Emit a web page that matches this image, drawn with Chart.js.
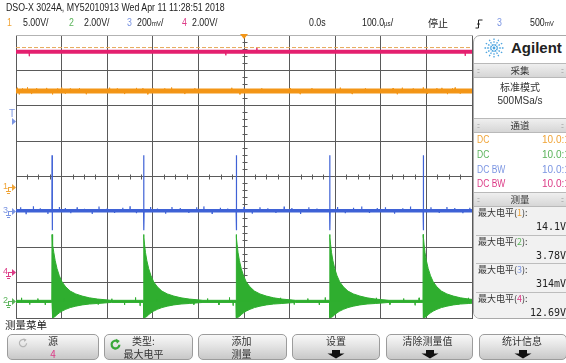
<!DOCTYPE html>
<html lang="zh">
<head>
<meta charset="utf-8">
<title>DSO-X 3024A</title>
<script src="https://cdn.jsdelivr.net/npm/chart.js@4.4.1/dist/chart.umd.min.js"></script>
<style>
html,body{margin:0;padding:0;background:#fff;}
body{width:566px;height:363px;overflow:hidden;position:relative;font-family:"Liberation Sans",Arial,sans-serif;color:#222;}
#scope{position:absolute;left:0;top:0;}
.t{position:absolute;white-space:nowrap;font-size:10px;line-height:12px;}
.n{transform:scaleX(0.88);transform-origin:0 0;}
.cjk{font-family:"Noto Sans CJK SC",sans-serif;}
.u{font-size:7px;}
#panel{position:absolute;left:473px;top:35px;width:100px;height:282px;border:1px solid #a9a9a9;border-radius:7px;background:#fff;overflow:hidden;}
.hdr{position:absolute;left:0;width:100px;height:13px;background:linear-gradient(#efefef,#d6d6d6);border-top:1px solid #b9b9b9;border-bottom:1px solid #b9b9b9;}
.hdr span.c{position:absolute;left:0;width:92px;text-align:center;font-family:"Noto Sans CJK SC",sans-serif;font-size:9.5px;line-height:13px;color:#333;}
.grip{position:absolute;top:0;font-size:7px;line-height:13px;color:#8a8a8a;letter-spacing:-1px;}
.ctr{position:absolute;left:0;width:92px;text-align:center;font-size:10px;line-height:12px;color:#333;}
.chl{position:absolute;font-size:10px;line-height:12px;transform:scaleX(0.85);transform-origin:0 0;white-space:nowrap;}
.chr{position:absolute;font-size:10px;line-height:12px;white-space:nowrap;}
#meas{position:absolute;left:0;top:170px;width:100px;height:120px;background:#f1f1f1;}
.ml{position:absolute;left:4px;font-family:"Noto Sans CJK SC",sans-serif;font-size:9px;line-height:12px;color:#333;white-space:nowrap;}
.mv{position:absolute;right:8px;font-family:"DejaVu Sans Mono",monospace;font-size:10px;line-height:12px;color:#222;}
.sep{position:absolute;left:2px;width:100px;height:1px;background:#bdbdbd;}
.btn{position:absolute;top:334px;height:26px;border:1px solid #9c9c9c;border-radius:5px;box-sizing:border-box;background:linear-gradient(#f8f8f8,#e4e4e4 45%,#c8c8c8);}
.btn .l{position:absolute;left:0;right:0;text-align:center;font-family:"Noto Sans CJK SC",sans-serif;font-size:10px;line-height:12px;color:#333;white-space:nowrap;}
.btn .l1{top:0px;}
.btn .l2{top:13px;}
.btn svg{position:absolute;}
</style>
</head>
<body>
<canvas id="scope" width="566" height="363"></canvas>

<!-- status line -->
<div class="t n" style="left:6px;top:2px;">DSO-X 3024A, MY52010913 Wed Apr 11 11:28:51 2018</div>
<div id="chanline"></div>
<div class="t n" style="left:309px;top:17px;">0.0s</div>
<div class="t n" style="left:362px;top:17px;">100.0<span class="u">µs</span>/</div>
<div class="t cjk" style="left:428px;top:17px;">停止</div>
<svg style="position:absolute;left:475px;top:19px" width="9" height="10" viewBox="0 0 9 10">
  <path d="M0.5 9 H3.5 V1 H7.5" fill="none" stroke="#222" stroke-width="1"/>
  <path d="M1.8 5.5 L3.5 3.2 L5.2 5.5 Z" fill="#222"/>
</svg>
<div class="t n" id="trigsrc" style="left:497px;top:17px;"></div>
<div class="t n" id="triglvl" style="left:530px;top:17px;"></div>

<!-- side panel -->
<div id="panel">
  <svg style="position:absolute;left:9px;top:1px" width="22" height="22" viewBox="-11 -11 22 22" id="star"></svg>
  <div style="position:absolute;left:37px;top:3px;font-size:15px;line-height:18px;font-weight:bold;color:#222;">Agilent</div>
  <div class="hdr" style="top:27px;"><span class="grip" style="left:3px">::</span><span class="c">采集</span><span class="grip" style="left:87px">::</span></div>
  <div class="ctr cjk" style="top:45px;">标准模式</div>
  <div class="ctr" style="top:59px;">500MSa/s</div>
  <div class="hdr" style="top:82px;"><span class="grip" style="left:3px">::</span><span class="c">通道</span><span class="grip" style="left:87px">::</span></div>
  <div id="chrows"></div>
  <div id="meas"></div>
  <div class="hdr" style="top:156px;"><span class="grip" style="left:3px">::</span><span class="c">测量</span><span class="grip" style="left:87px">::</span></div>
</div>

<!-- softkey menu -->
<div class="t cjk" style="left:5px;top:319px;font-size:10.5px;">测量菜单</div>
<div id="keys"></div>

<script>
// ---------- acquisition / display settings ----------
const TIME_PER_DIV = 100;            // µs per division
const DIV_X = 10, DIV_Y = 8;
const TIME_MIN = -DIV_X / 2 * TIME_PER_DIV;
const TIME_MAX = DIV_X / 2 * TIME_PER_DIV;

const channelNames = ['1', '2', '3', '4'];
const channelColors = ['#f39617', '#2fae2f', '#3f62d6', '#e4206f'];
const labelColors   = ['#f0a437', '#5ab35a', '#7b95e2', '#dc3a86'];
const scaleLabels   = ['5.00V/', '2.00V/', '200mV/', '2.00V/'];
const voltsPerDiv   = [5, 2, 200, 2];            // channel 3 in mV
const groundDiv     = [-0.30, -3.53, -0.97, -2.70]; // ground reference, divisions from centre
const couplings     = ['DC', 'DC', 'DC BW', 'DC BW'];
const probeRatios   = ['10.0:1', '10.0:1', '10.0:1', '10.0:1'];

const triggerSource = 3;
const triggerLevel  = 500;           // mV on channel 3
const triggerLabel  = '500mV';

// ---------- measured waveforms ----------
// switching events (µs)
const pulseTimes = [-421, -220, -17, 188, 393];

// channel 1: DC rail (V) with noise hairs [µs, V]
const ch1Level = 13.57;
const ch1Hairs = [[-497,14.05],[-493,13.1],[-486,13.95],[-475,14.1],[-466,13.15],[-455,13.98],[-433,14.02],[-420,13.1],
  [-409,13.95],[-400,14.08],[-392,13.2],[-381,13.96],[-361,14.0],[-346,13.12],[-295,14.05],[-278,13.96],[-262,13.15],
  [-236,14.02],[-222,13.98],[-211,13.12],[-200,14.0],[-174,13.95],[-159,14.08],[-130,13.15],[-108,13.97],[-27,14.04],
  [-9,13.12],[39,13.96],[101,14.0],[123,13.14],[149,13.98],[211,14.06],[237,13.15],[266,13.97],[327,14.0],[336,13.12],
  [347,14.05],[371,13.95],[393,14.1],[402,13.16],[423,13.98],[434,14.03],[446,13.14],[457,13.97],[463,14.06],[474,13.2]];

// channel 2: ringing after each edge, upper / lower envelope (V) vs time after edge (µs)
const ch2PulseDt = [0, 0.5, 2, 4, 7, 11, 16, 22, 30, 40, 52, 66, 82, 100, 130];
const ch2PulseHi = [3.78, 3.6, 3.2, 2.75, 2.3, 1.85, 1.45, 1.1, 0.82, 0.58, 0.42, 0.3, 0.2, 0.13, 0.06];
const ch2PulseLo = [-0.06, -0.93, -0.93, -0.9, -0.85, -0.75, -0.65, -0.55, -0.45, -0.35, -0.27, -0.2, -0.15, -0.12, -0.06];
const ch2BaseHi = 0.06, ch2BaseLo = -0.06;
const ch2Hairs = [[-488,0.2],[-470,-0.18],[-452,0.16],[-436,-0.2],[-395,0.18],[-370,-0.15],[-345,0.2],[-320,-0.18],
  [-290,0.15],[-262,-0.2],[-238,0.22],[-228,-0.25],[-190,0.18],[-165,-0.16],[-140,0.2],[-110,-0.18],[-80,0.16],
  [-55,-0.2],[-32,0.22],[-24,-0.24],[25,0.18],[50,-0.16],[80,0.2],[110,-0.18],[140,0.16],[165,-0.2],[178,0.22],
  [230,0.18],[255,-0.16],[290,0.2],[320,-0.18],[350,0.16],[375,-0.22],[384,0.2],[440,0.18],[470,-0.16],[492,0.2]];

// channel 3: spikes (mV) at each edge plus baseline noise hairs [µs, mV]
const ch3SpikeHigh = 314, ch3SpikeLow = -110;
const ch3Hairs = [[-490,20],[-478,-16],[-462,26],[-447,14],[-430,-18],[-405,22],[-392,16],[-380,-14],[-366,20],
  [-350,12],[-333,-18],[-318,24],[-300,15],[-284,-12],[-266,18],[-250,26],[-236,-14],[-205,22],[-190,13],[-172,-16],
  [-158,22],[-140,16],[-121,-12],[-104,20],[-88,25],[-70,-15],[-52,18],[-36,13],[0,22],[18,-16],[35,20],[52,14],
  [70,-12],[88,24],[105,16],[124,-18],[142,20],[160,13],[205,22],[222,-14],[240,18],[258,25],[275,-12],[292,16],
  [310,20],[330,-16],[348,14],[365,24],[410,20],[428,-12],[445,22],[462,16],[480,-14],[495,18]];

// channel 4: DC rail (V)
const ch4Level = 12.46;
const ch4Hairs = [[-471,12.2],[-40,12.25],[28,12.69],[485,12.22]];

// automatic measurements (maximum level)
const measLabel  = '最大电平';
const measValues = ['14.1V', '3.78V', '314mV', '12.69V'];
const measMarkerCh4 = 12.69;

// ---------- trace builders ----------
function trace(level, events) {
  const pts = [{ x: TIME_MIN, y: level }];
  events.slice().sort((a, b) => a.t - b.t).forEach(e => {
    pts.push({ x: e.t - 0.3, y: level });
    e.ys.forEach((v, k) => pts.push({ x: e.t + k * 0.5, y: v }));
    pts.push({ x: e.t + e.ys.length * 0.5, y: level });
  });
  pts.push({ x: TIME_MAX, y: level });
  return pts;
}
const hairEvents = hairs => hairs.map(h => ({ t: h[0], ys: [h[1]] }));

function envelope(shape, base) {
  const pts = [{ x: TIME_MIN, y: base }];
  pulseTimes.forEach(t0 => {
    pts.push({ x: t0 - 0.5, y: base });
    ch2PulseDt.forEach((dt, i) => pts.push({ x: t0 + dt, y: shape[i] }));
  });
  if (pts[pts.length - 1].x < TIME_MAX) pts.push({ x: TIME_MAX, y: base });
  return pts;
}
const flat = v => [{ x: TIME_MIN, y: v }, { x: TIME_MAX, y: v }];

const ch3Events = hairEvents(ch3Hairs).concat(pulseTimes.map(t => ({ t, ys: [ch3SpikeHigh, ch3SpikeLow] })));

// ---------- graticule and markers ----------
const graticule = {
  id: 'graticule',
  beforeDatasetsDraw(chart) {
    const { ctx, chartArea: a, scales } = chart;
    const x = scales.x, y = scales.y;
    const sx = v => Math.floor(x.getPixelForValue(v)) + 0.5;
    const sy = v => Math.floor(y.getPixelForValue(v)) + 0.5;
    ctx.save();
    ctx.lineWidth = 1;
    ctx.strokeStyle = '#5a5a5a';
    ctx.beginPath();
    for (let i = 0; i <= DIV_X; i++) {
      const px = sx(TIME_MIN + i * TIME_PER_DIV);
      ctx.moveTo(px, a.top); ctx.lineTo(px, a.bottom + 1);
    }
    for (let j = 0; j < DIV_Y; j++) {
      const py = sy(-DIV_Y / 2 + j);
      ctx.moveTo(a.left, py); ctx.lineTo(a.right + 1, py);
    }
    // minor ticks on the centre axes
    const cx = sx(0), cy = sy(0);
    for (let i = 0; i <= DIV_X * 4; i++) {
      const px = sx(TIME_MIN + i * TIME_PER_DIV / 4);
      ctx.moveTo(px, cy - 2); ctx.lineTo(px, cy + 3);
    }
    for (let j = 0; j <= DIV_Y * 5; j++) {
      const py = sy(-DIV_Y / 2 + j / 5);
      ctx.moveTo(cx - 2, py); ctx.lineTo(cx + 3, py);
    }
    ctx.stroke();
    ctx.strokeStyle = '#b3b3b3';
    ctx.beginPath();
    const top = sy(DIV_Y / 2);
    ctx.moveTo(a.left, top); ctx.lineTo(a.right + 1, top);
    ctx.stroke();
    ctx.restore();
  },
  afterDatasetsDraw(chart) {
    const { ctx, chartArea: a, scales } = chart;
    ctx.save();
    // ground reference markers
    ctx.font = '9px "Liberation Sans"';
    ctx.textBaseline = 'alphabetic';
    for (let c = 0; c < 4; c++) {
      const gy = Math.round(scales['y' + (c + 1)].getPixelForValue(0));
      ctx.fillStyle = labelColors[c];
      ctx.strokeStyle = labelColors[c];
      ctx.fillText(channelNames[c], 3, gy + 2);
      ctx.lineWidth = 1;
      ctx.beginPath();
      ctx.moveTo(8, gy + 0.5); ctx.lineTo(12, gy + 0.5);
      ctx.moveTo(8.5, gy); ctx.lineTo(8.5, gy + 4);
      ctx.moveTo(6, gy + 4.5); ctx.lineTo(11, gy + 4.5);
      ctx.moveTo(7, gy + 6.5); ctx.lineTo(10, gy + 6.5);
      ctx.stroke();
      ctx.beginPath();
      ctx.moveTo(12, gy - 3); ctx.lineTo(16, gy + 0.5); ctx.lineTo(12, gy + 4);
      ctx.closePath(); ctx.fill();
    }
    // trigger level marker
    const ty = Math.round(scales['y' + triggerSource].getPixelForValue(triggerLevel));
    ctx.fillStyle = labelColors[triggerSource - 1];
    ctx.font = '10px "Liberation Sans"';
    ctx.fillText('T', 9, ty - 5);
    ctx.beginPath();
    ctx.moveTo(12, ty - 4); ctx.lineTo(16, ty - 0.5); ctx.lineTo(12, ty + 3);
    ctx.closePath(); ctx.fill();
    // trigger position marker
    const tx = scales.x.getPixelForValue(0);
    ctx.fillStyle = '#f39617';
    ctx.beginPath();
    ctx.moveTo(tx - 4, a.top - 1); ctx.lineTo(tx + 4, a.top - 1); ctx.lineTo(tx, a.top + 4);
    ctx.closePath(); ctx.fill();
    ctx.restore();
  }
};

function chAxis(c) {
  return { type: 'linear', display: false,
    min: (-DIV_Y / 2 - groundDiv[c]) * voltsPerDiv[c],
    max: (DIV_Y / 2 - groundDiv[c]) * voltsPerDiv[c] };
}
const line = (data, axis, color, width, extra) => Object.assign({
  data, yAxisID: axis, borderColor: color, backgroundColor: color, borderWidth: width,
  pointRadius: 0, tension: 0, fill: false
}, extra || {});

new Chart(document.getElementById('scope'), {
  type: 'line',
  data: {
    datasets: [
      line(flat(measMarkerCh4), 'y4', '#e5a85a', 1, { borderDash: [4, 2] }),
      line(trace(0, ch3Events), 'y3', channelColors[2], 1.2),
      line(flat(0), 'y3', channelColors[2], 3.5),
      line(trace(ch1Level, hairEvents(ch1Hairs)), 'y1', channelColors[0], 1),
      line(flat(ch1Level), 'y1', channelColors[0], 5),
      line(trace(ch4Level, hairEvents(ch4Hairs)), 'y4', channelColors[3], 1),
      line(flat(ch4Level), 'y4', channelColors[3], 4),
      line(trace(0, hairEvents(ch2Hairs)), 'y2', channelColors[1], 1),
      line(envelope(ch2PulseHi, ch2BaseHi), 'y2', channelColors[1], 1, { fill: '+1' }),
      line(envelope(ch2PulseLo, ch2BaseLo), 'y2', channelColors[1], 1)
    ]
  },
  options: {
    responsive: false,
    animation: false,
    events: [],
    layout: { padding: { left: 16, top: 35, right: 94, bottom: 45 } },
    plugins: { legend: { display: false }, tooltip: { enabled: false } },
    scales: {
      x: { type: 'linear', display: false, min: TIME_MIN, max: TIME_MAX },
      y: { type: 'linear', display: false, min: -DIV_Y / 2, max: DIV_Y / 2 },
      y1: chAxis(0), y2: chAxis(1), y3: chAxis(2), y4: chAxis(3)
    }
  },
  plugins: [graticule]
});

// ---------- text: channel scale line ----------
const chanX = [[7, 23], [69, 84], [127, 137], [182, 192]];
const chanLine = document.getElementById('chanline');
scaleLabels.forEach((s, i) => {
  const num = document.createElement('div');
  num.className = 't n'; num.style.left = chanX[i][0] + 'px'; num.style.top = '17px';
  num.style.color = labelColors[i]; num.textContent = channelNames[i];
  const val = document.createElement('div');
  val.className = 't n'; val.style.left = chanX[i][1] + 'px'; val.style.top = '17px';
  val.innerHTML = s.replace('mV', '<span class="u">mV</span>');
  chanLine.appendChild(num); chanLine.appendChild(val);
});
const ts = document.getElementById('trigsrc');
ts.textContent = String(triggerSource); ts.style.color = labelColors[triggerSource - 1];
document.getElementById('triglvl').innerHTML = triggerLabel.replace('mV', '<span class="u">mV</span>');

// ---------- side panel ----------
const star = document.getElementById('star');
let rays = '';
for (let k = 0; k < 12; k++) {
  const a = k * Math.PI / 6;
  rays += `<line x1="${(2.5 * Math.cos(a)).toFixed(2)}" y1="${(2.5 * Math.sin(a)).toFixed(2)}" x2="${(9.5 * Math.cos(a)).toFixed(2)}" y2="${(9.5 * Math.sin(a)).toFixed(2)}"/>`;
}
star.innerHTML = `<g stroke="#4aa3df" stroke-width="1.3" stroke-dasharray="1.6 1.1">${rays}</g><circle r="1.4" fill="#4aa3df"/>`;

const chRows = document.getElementById('chrows');
const rowTop = [98, 113, 128, 142];
couplings.forEach((cpl, i) => {
  chRows.insertAdjacentHTML('beforeend',
    `<div class="chl" style="left:3px;top:${rowTop[i]}px;color:${labelColors[i]}">${cpl}</div>` +
    `<div class="chr" style="left:68px;top:${rowTop[i]}px;color:${labelColors[i]}">${probeRatios[i]}</div>`);
});

const meas = document.getElementById('meas');
measValues.forEach((v, i) => {
  const top = 1 + i * 28.7;
  meas.insertAdjacentHTML('beforeend',
    `<div class="ml" style="top:${top}px">${measLabel}(<span style="color:${labelColors[i]}">${channelNames[i]}</span>):</div>` +
    `<div class="mv" style="top:${top + 14}px">${v}</div>` +
    (i < 3 ? `<div class="sep" style="top:${top + 27.5}px"></div>` : ''));
});

// ---------- softkeys ----------
const arrow = '<svg width="18" height="9" viewBox="-9 0 18 9" style="left:50%;margin-left:-9px;top:15px"><path d="M-4 0H4V3.5H8.5L0 8.5L-8.5 3.5H-4Z" fill="#111"/></svg>';
const spinGrey = '<svg width="12" height="12" viewBox="0 0 12 12" style="left:9px;top:2px"><path d="M9.6 6.2a3.6 3.6 0 1 1-1.3-2.9" fill="none" stroke="#b5b5b5" stroke-width="1.2"/><path d="M6.6 1.2l3 1.6-2.2 2.1z" fill="#b5b5b5"/></svg>';
const spinGreen = '<svg width="13" height="13" viewBox="0 0 12 12" style="left:4px;top:3px"><path d="M9.6 6.2a3.6 3.6 0 1 1-1.3-2.9" fill="none" stroke="#3aa83a" stroke-width="2.1"/><path d="M6.4 0.8l3.6 1.9-2.7 2.6z" fill="#3aa83a"/></svg>';
const softkeys = [
  { x: 7,   w: 92, top: '源',       bottom: `<span style="color:${labelColors[3]}">4</span>`, icon: spinGrey, shift: 0 },
  { x: 104, w: 89, top: '类型:',    bottom: measLabel, icon: spinGreen, shift: -5 },
  { x: 198, w: 89, top: '添加',     bottom: '测量', shift: -1 },
  { x: 292, w: 88, top: '设置',     arrow: true, shift: 0 },
  { x: 386, w: 87, top: '清除测量值', arrow: true, shift: -2 },
  { x: 479, w: 88, top: '统计信息',  arrow: true, shift: -1 }
];
const keys = document.getElementById('keys');
softkeys.forEach(k => {
  const sh = `transform:translateX(${k.shift}px)`;
  keys.insertAdjacentHTML('beforeend',
    `<div class="btn" style="left:${k.x}px;width:${k.w}px">` +
    (k.icon || '') +
    `<div class="l l1" style="${sh}">${k.top}</div>` +
    (k.arrow ? arrow : `<div class="l l2" style="${sh}">${k.bottom}</div>`) +
    `</div>`);
});
</script>
</body>
</html>
